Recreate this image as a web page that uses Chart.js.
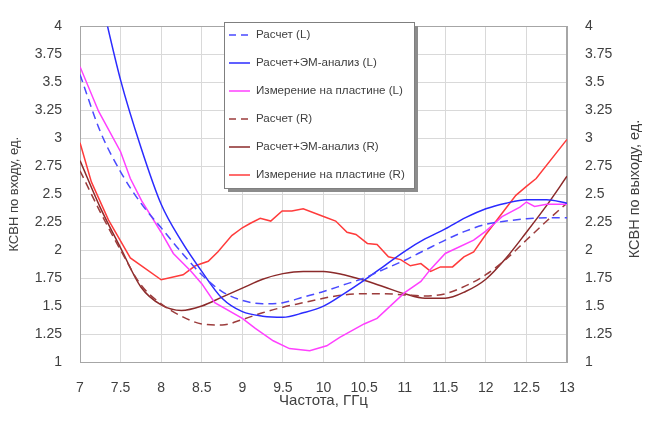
<!DOCTYPE html>
<html>
<head>
<meta charset="utf-8">
<script src="https://cdn.jsdelivr.net/npm/chart.js@4.4.0/dist/chart.umd.min.js"></script>
<style>
  html, body { margin: 0; padding: 0; background: #fff; }
</style>
</head>
<body>
<canvas id="chart" width="647" height="427"></canvas>
<script>
// frequency grid for the calculated curves, GHz
const freqCalc = [7, 7.25, 7.5, 7.75, 8, 8.25, 8.5, 8.75, 9, 9.25, 9.5, 9.75, 10,
  10.25, 10.5, 10.75, 11, 11.25, 11.5, 11.75, 12, 12.25, 12.5, 12.75, 13];

const calcL   = [3.57, 3.06, 2.70, 2.42, 2.20, 1.98, 1.78, 1.63, 1.55, 1.52, 1.53, 1.58, 1.63,
  1.69, 1.75, 1.83, 1.91, 2.00, 2.09, 2.17, 2.23, 2.26, 2.28, 2.29, 2.29];
const calcEmL = [5.05, 4.28, 3.52, 2.92, 2.41, 2.08, 1.81, 1.57, 1.45, 1.41, 1.40, 1.44, 1.50,
  1.61, 1.73, 1.86, 1.99, 2.10, 2.19, 2.29, 2.37, 2.42, 2.45, 2.45, 2.42];
const calcR   = [2.71, 2.34, 2.00, 1.69, 1.52, 1.41, 1.34, 1.33, 1.38, 1.44, 1.49, 1.53, 1.57,
  1.60, 1.61, 1.61, 1.60, 1.59, 1.61, 1.68, 1.78, 1.92, 2.09, 2.26, 2.42];
const calcEmR = [2.80, 2.38, 2.02, 1.67, 1.51, 1.46, 1.50, 1.58, 1.66, 1.74, 1.79, 1.81, 1.81,
  1.78, 1.73, 1.67, 1.61, 1.57, 1.57, 1.63, 1.74, 1.93, 2.16, 2.40, 2.66];

// measured on the plate (L)
const measFreqL = [7, 7.23, 7.5, 7.62, 7.76, 8, 8.15, 8.37, 8.5, 8.66, 9, 9.16, 9.38, 9.58,
  9.83, 10.04, 10.2, 10.5, 10.66, 11, 11.2, 11.32, 11.5, 11.85, 12, 12.2, 12.42, 12.5,
  12.6, 12.75, 13];
const measL = [3.64, 3.24, 2.88, 2.64, 2.44, 2.16, 1.97, 1.81, 1.70, 1.53, 1.39, 1.30, 1.19,
  1.12, 1.10, 1.145, 1.22, 1.34, 1.39, 1.62, 1.72, 1.83, 1.97, 2.09, 2.17, 2.30, 2.385, 2.43,
  2.39, 2.41, 2.41];

// measured on the plate (R)
const measFreqR = [7, 7.14, 7.35, 7.62, 8, 8.27, 8.42, 8.58, 8.7, 8.87, 9, 9.1, 9.22, 9.35,
  9.49, 9.61, 9.75, 10, 10.15, 10.29, 10.4, 10.54, 10.66, 10.8, 10.95, 11.07, 11.2, 11.32,
  11.44, 11.59, 11.73, 11.85, 12, 12.2, 12.37, 12.5, 12.62, 13];
const measR = [2.96, 2.61, 2.27, 1.93, 1.735, 1.78, 1.86, 1.90, 1.985, 2.13, 2.20, 2.24, 2.285,
  2.26, 2.35, 2.35, 2.37, 2.30, 2.26, 2.16, 2.14, 2.06, 2.05, 1.94, 1.915, 1.86, 1.88, 1.81,
  1.85, 1.85, 1.94, 1.985, 2.14, 2.33, 2.49, 2.57, 2.64, 2.99];

const xTicks = [7, 7.5, 8, 8.5, 9, 9.5, 10, 10.5, 11, 11.5, 12, 12.5, 13];
const yTicks = [1, 1.25, 1.5, 1.75, 2, 2.25, 2.5, 2.75, 3, 3.25, 3.5, 3.75, 4];

const seriesNames = ['Расчет (L)', 'Расчет+ЭМ-анализ (L)', 'Измерение на пластине (L)',
  'Расчет (R)', 'Расчет+ЭМ-анализ (R)', 'Измерение на пластине (R)'];

const pts = (xs, ys) => xs.map((x, i) => ({ x: x, y: ys[i] }));

const TEXT = '#404040';
const FONT = "'Liberation Sans', Arial, sans-serif";

const line = (label, data, color, axis, dashed, smooth) => ({
  label: label,
  data: data,
  yAxisID: axis,
  borderColor: color,
  borderWidth: 1.5,
  borderDash: dashed ? [8, 5] : [],
  pointRadius: 0,
  tension: smooth ? 0.4 : 0,
  cubicInterpolationMode: smooth ? 'monotone' : 'default',
  fill: false
});

// frame round the plot area
const frame = {
  id: 'frame',
  beforeDatasetsDraw(chart) {
    const { ctx, chartArea: a } = chart;
    ctx.save();
    ctx.strokeStyle = '#a6a6a6';
    ctx.lineWidth = 1;
    ctx.strokeRect(Math.round(a.left) + 0.5, Math.round(a.top) + 0.5,
      Math.round(a.right - a.left) - 1, Math.round(a.bottom - a.top));
    ctx.restore();
  }
};

// boxed legend inside the plot, plus the right axis title
const boxLegend = {
  id: 'boxLegend',
  afterDraw(chart) {
    const ctx = chart.ctx;
    const x = 224, y = 22, w = 190, h = 166;
    ctx.save();
    ctx.fillStyle = '#8c8c8c';
    ctx.fillRect(x + 4, y + 4, w, h);
    ctx.fillStyle = '#fff';
    ctx.fillRect(x, y, w, h);
    ctx.strokeStyle = '#7f7f7f';
    ctx.lineWidth = 1;
    ctx.strokeRect(x + 0.5, y + 0.5, w, h);

    ctx.font = '11.6px ' + FONT;
    ctx.textBaseline = 'middle';
    chart.data.datasets.forEach((ds, i) => {
      const ry = y + 13 + i * 28;
      ctx.strokeStyle = ds.borderColor;
      ctx.lineWidth = 1.5;
      ctx.setLineDash(ds.borderDash.length ? [7, 5] : []);
      ctx.beginPath();
      ctx.moveTo(x + 5, ry);
      ctx.lineTo(x + 26, ry);
      ctx.stroke();
      ctx.setLineDash([]);
      ctx.fillStyle = TEXT;
      ctx.fillText(ds.label, x + 32, ry);
    });

    // right title reads bottom to top, like the left one
    ctx.font = '14.5px ' + FONT;
    ctx.textAlign = 'center';
    ctx.translate(635, 189);
    ctx.rotate(-Math.PI / 2);
    ctx.fillText('КСВН по выходу, ед.', 0, 0);
    ctx.restore();
  }
};

const yScale = (position, grid) => ({
  type: 'linear',
  position: position,
  min: 1,
  max: 4,
  afterBuildTicks: s => { s.ticks = yTicks.map(v => ({ value: v })); },
  afterFit: s => { s.width = 80; },
  grid: { display: grid, color: '#d9d9d9', drawTicks: false },
  border: { color: '#a6a6a6' },
  ticks: { color: TEXT, font: { size: 14, family: FONT }, padding: 18, callback: v => String(v) }
});

new Chart(document.getElementById('chart'), {
  type: 'line',
  data: {
    datasets: [
      line(seriesNames[0], pts(freqCalc, calcL), '#4a4aff', 'y', true, true),
      line(seriesNames[1], pts(freqCalc, calcEmL), '#2b2bff', 'y', false, true),
      line(seriesNames[2], pts(measFreqL, measL), '#ff40ff', 'y', false, false),
      line(seriesNames[3], pts(freqCalc, calcR), '#9c3c3c', 'y2', true, true),
      line(seriesNames[4], pts(freqCalc, calcEmR), '#8b2a2a', 'y2', false, true),
      line(seriesNames[5], pts(measFreqR, measR), '#ff3b3b', 'y2', false, false)
    ]
  },
  options: {
    responsive: false,
    animation: false,
    layout: { padding: { top: 11, left: 0, right: 0, bottom: 0 } },
    plugins: {
      legend: { display: false },
      tooltip: { enabled: false }
    },
    scales: {
      x: {
        type: 'linear',
        min: 7,
        max: 13,
        afterBuildTicks: s => { s.ticks = xTicks.map(v => ({ value: v })); },
        afterFit: s => { s.height = 65; },
        grid: { color: '#d9d9d9', drawTicks: false },
        border: { color: '#a6a6a6' },
        ticks: { color: TEXT, font: { size: 14, family: FONT }, padding: 18, maxRotation: 0,
          callback: v => String(v) },
        title: { display: true, text: 'Частота, ГГц', color: TEXT,
          font: { size: 15, family: FONT }, padding: { top: 0, bottom: 17 } }
      },
      y: Object.assign(yScale('left', true), {
        title: { display: true, text: 'КСВН по входу, ед.', color: TEXT,
          font: { size: 13, family: FONT }, padding: { top: 7, bottom: 0 } }
      }),
      y2: yScale('right', false)
    }
  },
  plugins: [frame, boxLegend]
});
</script>
</body>
</html>
